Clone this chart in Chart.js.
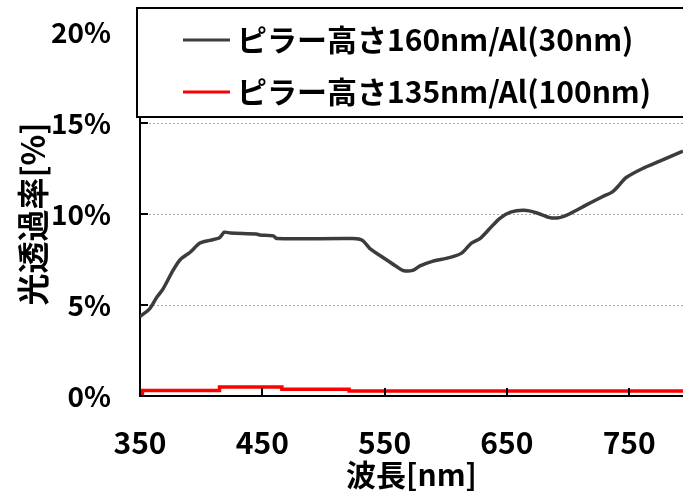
<!DOCTYPE html>
<html>
<head>
<meta charset="utf-8">
<script src="https://cdn.jsdelivr.net/npm/chart.js@4.4.1/dist/chart.umd.min.js"></script>
<style>
  html, body { margin: 0; padding: 0; background: #fff; overflow: hidden; }
  #wrap { position: relative; width: 683px; height: 493px; }
</style>
</head>
<body>
<div id="wrap"><canvas id="chart"></canvas></div>
<script>
// ── DATA ──
const xTicks = [350, 450, 550, 650, 750];
const yTicks = [0, 5, 10, 15, 20];

// ピラー高さ160nm/Al(30nm)
const wlGray = [350, 358, 364, 369, 377, 383, 391, 399, 407, 415, 419, 424, 445, 448, 459, 462,
                524, 532, 538, 549, 560, 565, 573, 579, 589, 603, 613, 621, 628, 636, 644, 653,
                664, 674, 685, 693, 701, 715, 728, 736, 742, 747, 761, 775, 794];
const tGray  = [4.36, 4.8, 5.45, 5.9, 6.9, 7.5, 7.9, 8.4, 8.55, 8.7, 9.0, 8.95, 8.9, 8.85, 8.8, 8.65,
                8.65, 8.55, 8.1, 7.6, 7.1, 6.9, 6.9, 7.15, 7.4, 7.6, 7.85, 8.4, 8.65, 9.2, 9.75, 10.1,
                10.2, 10.07, 9.8, 9.8, 10.0, 10.5, 10.95, 11.2, 11.6, 11.98, 12.5, 12.9, 13.45];

// ピラー高さ135nm/Al(100nm)
const wlRed = [350, 352, 415, 466, 521, 587, 794];
const tRed  = [0.05, 0.15, 0.3, 0.5, 0.37, 0.27, 0.27];

const FONT = '"Noto Sans CJK JP", "Noto Sans", sans-serif';
const pts = (xs, ys) => xs.map((x, i) => ({ x, y: ys[i] }));

// inner tick marks (ticks point into the plot)
const innerTicks = {
    id: 'innerTicks',
    afterDatasetsDraw(chart) {
        const { ctx, scales: { x, y }, chartArea: a } = chart;
        ctx.save();
        ctx.strokeStyle = '#000';
        ctx.lineWidth = 2;
        ctx.beginPath();
        yTicks.forEach(v => { const py = Math.round(y.getPixelForValue(v)); ctx.moveTo(a.left, py); ctx.lineTo(a.left + 8, py); });
        xTicks.forEach(v => { const px = Math.round(x.getPixelForValue(v)); ctx.moveTo(px, a.bottom + 1); ctx.lineTo(px, a.bottom - 8); });
        ctx.stroke();
        ctx.restore();
    }
};

// boxed legend overlapping the top of the plot
const boxLegend = {
    id: 'boxLegend',
    afterDraw(chart) {
        const { ctx } = chart;
        ctx.save();
        ctx.fillStyle = '#fff';
        ctx.strokeStyle = '#000';
        ctx.lineWidth = 2;
        ctx.fillRect(137, 8, 560, 109);
        ctx.strokeRect(137, 8, 560, 109);
        chart.data.datasets.forEach((ds, i) => {
            const cy = 40 + i * 52;
            ctx.strokeStyle = ds.borderColor;
            ctx.lineWidth = 3;
            ctx.beginPath(); ctx.moveTo(183, cy); ctx.lineTo(230, cy); ctx.stroke();
            ctx.fillStyle = '#000';
            ctx.font = `bold 30px ${FONT}`;
            ctx.textBaseline = 'middle';
            ctx.fillText(ds.label, 237, cy);
        });
        ctx.restore();
    }
};

Chart.defaults.color = '#000';

new Chart(document.getElementById('chart'), {
    type: 'line',
    data: {
        datasets: [
            { label: 'ピラー高さ160nm/Al(30nm)', data: pts(wlGray, tGray), borderColor: '#3c3c3c', borderWidth: 3.5,
              pointRadius: 0, tension: 0.25 },
            { label: 'ピラー高さ135nm/Al(100nm)', data: pts(wlRed, tRed), borderColor: '#ff0000', borderWidth: 3.5,
              pointRadius: 0, stepped: 'after' }
        ]
    },
    options: {
        responsive: true, maintainAspectRatio: false, animation: false,
        layout: { padding: { top: 32, right: 0, left: 0, bottom: 0 } },
        plugins: { legend: { display: false }, tooltip: { enabled: false } },
        scales: {
            x: {
                type: 'linear', min: 350, max: 794,
                afterBuildTicks: s => { s.ticks = xTicks.map(v => ({ value: v })); },
                afterFit: s => { s.height = 97; s.paddingLeft = 0; s.paddingRight = 0; },
                grid: { display: false, drawTicks: false },
                border: { color: '#000', width: 2 },
                ticks: { padding: 29, maxRotation: 0, font: { family: FONT, weight: 'bold', size: 30 } },
                title: { display: true, text: '波長[nm]', padding: { top: 0, bottom: 0 },
                         font: { family: FONT, weight: 'bold', size: 30 } }
            },
            y: {
                min: 0, max: 20,
                afterBuildTicks: s => { s.ticks = yTicks.map(v => ({ value: v })); },
                afterFit: s => { s.width = 140; s.paddingTop = 0; s.paddingBottom = 0; },
                grid: { drawTicks: false, color: c => c.tick.value === 0 ? 'rgba(0,0,0,0)' : '#a8a8a8',
                        lineWidth: 1 },
                border: { color: '#000', width: 2, dash: [2, 2] },
                ticks: { padding: 29, callback: v => v + '%', font: { family: FONT, weight: 'bold', size: 28 } },
                title: { display: true, text: '光透過率[%]', padding: { top: 14, bottom: 0 },
                         font: { family: FONT, weight: 'bold', size: 32 } }
            }
        }
    },
    plugins: [innerTicks, boxLegend]
});
</script>
</body>
</html>
